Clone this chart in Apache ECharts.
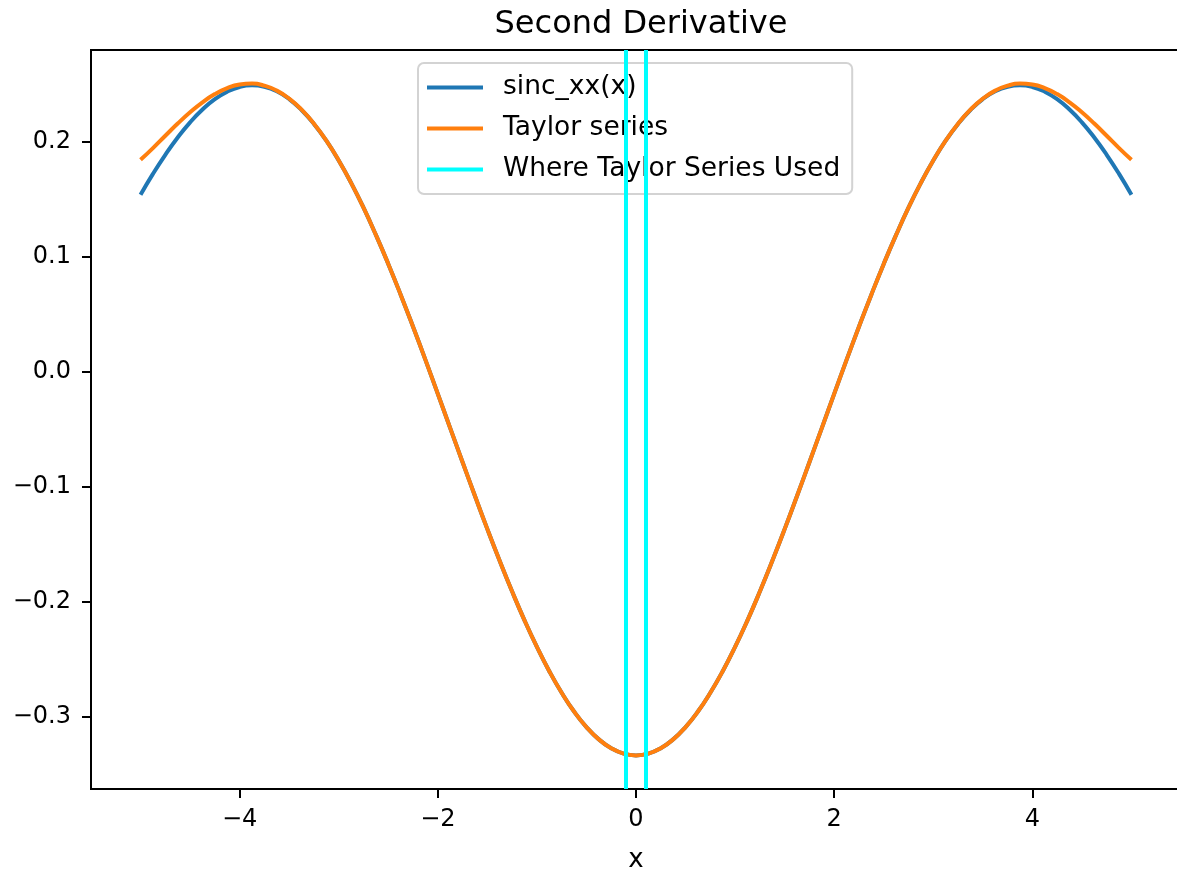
<!DOCTYPE html>
<html>
<head>
<meta charset="utf-8">
<script src="https://cdn.jsdelivr.net/npm/echarts@6/dist/echarts.min.js"></script>
<style>
  html, body { margin: 0; padding: 0; background: #fff; }
  #chart { width: 1177px; height: 869px; }
</style>
</head>
<body>
<div id="chart"></div>
<script>
// x positions, every 0.125
const xs = [
  -5, -4.875, -4.75, -4.625, -4.5, -4.375, -4.25, -4.125, -4, -3.875, -3.75, -3.625, -3.5, -3.375, -3.25, -3.125,
  -3, -2.875, -2.75, -2.625, -2.5, -2.375, -2.25, -2.125, -2, -1.875, -1.75, -1.625, -1.5, -1.375, -1.25, -1.125,
  -1, -0.875, -0.75, -0.625, -0.5, -0.375, -0.25, -0.125, 0,
  0.125, 0.25, 0.375, 0.5, 0.625, 0.75, 0.875, 1, 1.125, 1.25, 1.375, 1.5, 1.625, 1.75, 1.875, 2,
  2.125, 2.25, 2.375, 2.5, 2.625, 2.75, 2.875, 3, 3.125, 3.25, 3.375, 3.5, 3.625, 3.75, 3.875, 4,
  4.125, 4.25, 4.375, 4.5, 4.625, 4.75, 4.875, 5
];
// sinc_xx(x) (blue curve)
const sincXX = [
  0.1537, 0.1718, 0.1884, 0.2034, 0.2166, 0.2277, 0.2367, 0.2432, 0.2473, 0.2487, 0.2474, 0.2435, 0.2368, 0.2273, 0.2152, 0.2006,
  0.1834, 0.1640, 0.1424, 0.1188, 0.0936, 0.0669, 0.0390, 0.0102, -0.0193, -0.0490, -0.0787, -0.1080, -0.1368, -0.1645, -0.1910, -0.2160,
  -0.2391, -0.2602, -0.2789, -0.2952, -0.3087, -0.3194, -0.3271, -0.3318, -0.3333,
  -0.3318, -0.3271, -0.3194, -0.3087, -0.2952, -0.2789, -0.2602, -0.2391, -0.2160, -0.1910, -0.1645, -0.1368, -0.1080, -0.0787, -0.0490, -0.0193,
  0.0102, 0.0390, 0.0669, 0.0936, 0.1188, 0.1424, 0.1640, 0.1834, 0.2006, 0.2152, 0.2273, 0.2368, 0.2435, 0.2474, 0.2487, 0.2473,
  0.2432, 0.2367, 0.2277, 0.2166, 0.2034, 0.1884, 0.1718, 0.1537
];
// Taylor series (orange curve)
const taylor = [
  0.1840, 0.1942, 0.2049, 0.2155, 0.2253, 0.2340, 0.2411, 0.2463, 0.2494, 0.2502, 0.2484, 0.2441, 0.2372, 0.2276, 0.2154, 0.2007,
  0.1835, 0.1640, 0.1424, 0.1188, 0.0936, 0.0669, 0.0390, 0.0102, -0.0193, -0.0490, -0.0787, -0.1080, -0.1368, -0.1645, -0.1910, -0.2160,
  -0.2391, -0.2602, -0.2789, -0.2952, -0.3087, -0.3194, -0.3271, -0.3318, -0.3333,
  -0.3318, -0.3271, -0.3194, -0.3087, -0.2952, -0.2789, -0.2602, -0.2391, -0.2160, -0.1910, -0.1645, -0.1368, -0.1080, -0.0787, -0.0490, -0.0193,
  0.0102, 0.0390, 0.0669, 0.0936, 0.1188, 0.1424, 0.1640, 0.1835, 0.2007, 0.2154, 0.2276, 0.2372, 0.2441, 0.2484, 0.2502, 0.2494,
  0.2463, 0.2411, 0.2340, 0.2253, 0.2155, 0.2049, 0.1942, 0.1840
];
// where the Taylor series is used (vertical lines)
const taylorBounds = [-0.1, 0.1];
// tick labels
const xTicks = [-4, -2, 0, 2, 4];
const yTicks = [-0.3, -0.2, -0.1, 0.0, 0.1, 0.2];

const FONT = 'DejaVu Sans';
const minus = s => String(s).replace('-', '\u2212');

const chart = echarts.init(document.getElementById('chart'));
chart.setOption({
  animation: false,
  title: {
    text: 'Second Derivative',
    left: 636,
    textAlign: 'center',
    top: 4,
    textStyle: { fontFamily: FONT, fontSize: 32, fontWeight: 'normal', color: '#000' }
  },
  legend: {
    orient: 'vertical',
    left: 418,
    top: 63,
    padding: [11, 12, 11, 9],
    itemGap: 14,
    itemWidth: 56,
    itemHeight: 4,
    icon: 'path://M0,0 H56 V4 H0 Z',
    backgroundColor: 'rgba(255,255,255,0.8)',
    borderColor: '#d3d3d3',
    borderWidth: 2,
    borderRadius: 6,
    textStyle: { fontFamily: FONT, fontSize: 26.5, lineHeight: 26.5, color: '#000', padding: [0, 0, 0, 15] },
    data: ['sinc_xx(x)', 'Taylor series', 'Where Taylor Series Used']
  },
  grid: {
    left: 91, top: 50, width: 1090, height: 739,
    outerBoundsMode: 'none',
    show: true, borderColor: '#000', borderWidth: 2, backgroundColor: 'transparent'
  },
  xAxis: {
    type: 'value',
    min: -5.5, max: 5.5,
    name: 'x',
    nameLocation: 'middle',
    nameGap: 58,
    nameTextStyle: { fontFamily: FONT, fontSize: 26, color: '#000' },
    splitLine: { show: false },
    axisLine: { show: true, onZero: false, lineStyle: { color: '#000', width: 2 } },
    axisTick: { show: true, customValues: xTicks, length: 9, lineStyle: { color: '#000', width: 2 } },
    axisLabel: { customValues: xTicks, margin: 19, fontFamily: FONT, fontSize: 24, color: '#000', formatter: v => minus(v) }
  },
  yAxis: {
    type: 'value',
    min: -0.3625, max: 0.2794,
    splitLine: { show: false },
    axisLine: { show: true, onZero: false, lineStyle: { color: '#000', width: 2 } },
    axisTick: { show: true, customValues: yTicks, length: 9, lineStyle: { color: '#000', width: 2 } },
    axisLabel: { customValues: yTicks, margin: 20, fontFamily: FONT, fontSize: 24, color: '#000', formatter: v => minus(v.toFixed(1)) }
  },
  series: [
    {
      name: 'sinc_xx(x)',
      type: 'line',
      data: xs.map((x, i) => [x, sincXX[i]]),
      showSymbol: false,
      smooth: true,
      color: '#1f77b4',
      lineStyle: { width: 4 },
      z: 2
    },
    {
      name: 'Taylor series',
      type: 'line',
      data: xs.map((x, i) => [x, taylor[i]]),
      showSymbol: false,
      smooth: true,
      color: '#ff7f0e',
      lineStyle: { width: 4 },
      z: 3
    },
    {
      name: 'Where Taylor Series Used',
      type: 'line',
      data: [],
      color: '#00ffff',
      z: 4,
      markLine: {
        silent: true,
        symbol: 'none',
        label: { show: false },
        lineStyle: { color: '#00ffff', width: 4, type: 'solid' },
        data: taylorBounds.map(v => ({ xAxis: v }))
      }
    }
  ]
});
</script>
</body>
</html>
